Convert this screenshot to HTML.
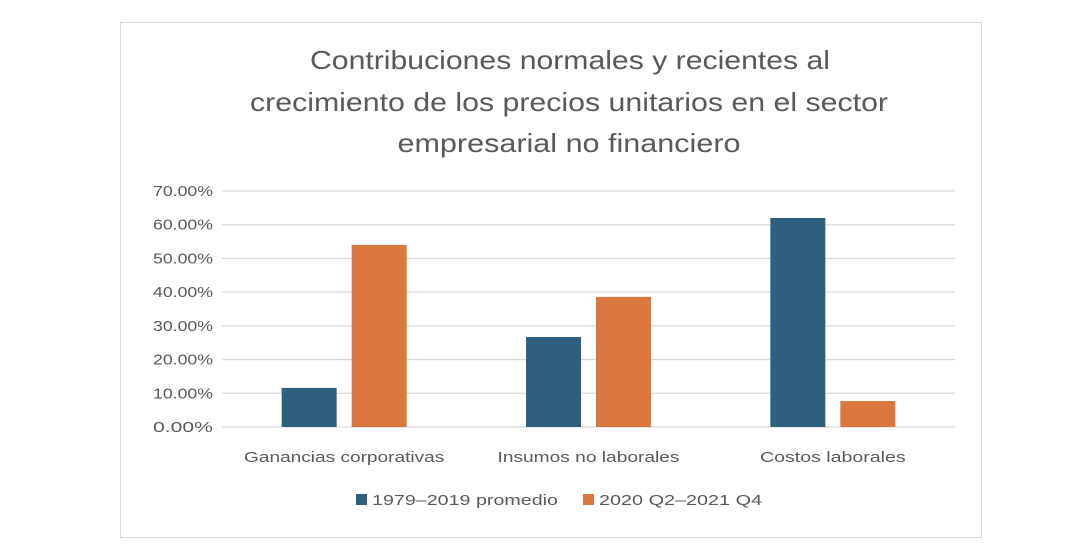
<!DOCTYPE html>
<html><head><meta charset="utf-8"><style>
html,body{margin:0;padding:0;background:#fff;width:1068px;height:558px;overflow:hidden;}
svg{display:block;font-family:"Liberation Sans",sans-serif;}
</style></head><body>
<svg id="chart" width="1068" height="558">
<rect x="120.5" y="22.5" width="861" height="515" fill="#fff" stroke="#d9d9d9"/>
<text x="570" y="69" text-anchor="middle" font-size="26" fill="#595959" textLength="520" lengthAdjust="spacingAndGlyphs">Contribuciones normales y recientes al</text>
<text x="569" y="111" text-anchor="middle" font-size="26" fill="#595959" textLength="638" lengthAdjust="spacingAndGlyphs">crecimiento de los precios unitarios en el sector</text>
<text x="569" y="152" text-anchor="middle" font-size="26" fill="#595959" textLength="343" lengthAdjust="spacingAndGlyphs">empresarial no financiero</text>
<g id="grid"></g><g id="bars"></g><g id="labels"></g>
<rect x="356" y="494" width="11" height="11" fill="#2e5f7f"/>
<text x="372" y="505" font-size="15" fill="#595959" textLength="186" lengthAdjust="spacingAndGlyphs">1979–2019 promedio</text>
<rect x="583" y="494" width="11" height="11" fill="#d9773f"/>
<text x="599" y="505" font-size="15" fill="#595959" textLength="163" lengthAdjust="spacingAndGlyphs">2020 Q2–2021 Q4</text>
</svg>
<script>
const categories = ["Ganancias corporativas","Insumos no laborales","Costos laborales"];
const seriesAvg = [11.6, 26.7, 62.0];
const seriesRecent = [54.0, 38.6, 7.7];
const yTicks = [0,10,20,30,40,50,60,70];
const NS="http://www.w3.org/2000/svg";
const x0=222,x1=955,yBase=427,yTop=191,yMax=70;
const y=v=>yBase-(v/yMax)*(yBase-yTop);
const bw=(x1-x0)/categories.length;
const xc=i=>x0+bw*(i+0.5);
function mk(tag,attrs,parent){const e=document.createElementNS(NS,tag);for(const k in attrs)e.setAttribute(k,attrs[k]);document.getElementById(parent).appendChild(e);return e;}
yTicks.forEach(t=>{
  const l=mk('line',{x1:x0,x2:x1,y1:y(t),y2:y(t),stroke:'#d9d9d9','stroke-width':1.3},'grid');
  
  
  const tx=mk('text',{x:213,y:y(t)+5,'text-anchor':'end','font-size':15,fill:'#595959',textLength:60,lengthAdjust:'spacingAndGlyphs'},'labels');
  tx.textContent=t.toFixed(2)+'%';
  
  
});
categories.forEach((c,i)=>{
  const b1=mk('rect',{x:xc(i)-62.5,y:y(seriesAvg[i]),width:55,height:yBase-y(seriesAvg[i]),fill:'#2e5f7f'},'bars');
  
  
  const b2=mk('rect',{x:xc(i)+7.5,y:y(seriesRecent[i]),width:55,height:yBase-y(seriesRecent[i]),fill:'#d9773f'},'bars');
  
  
  const tx=mk('text',{x:xc(i),y:462,'text-anchor':'middle','font-size':15,fill:'#595959',textLength:c.length*9.1,lengthAdjust:'spacingAndGlyphs'},'labels');
  tx.textContent=c;
  
  
});
</script>
</body></html>
